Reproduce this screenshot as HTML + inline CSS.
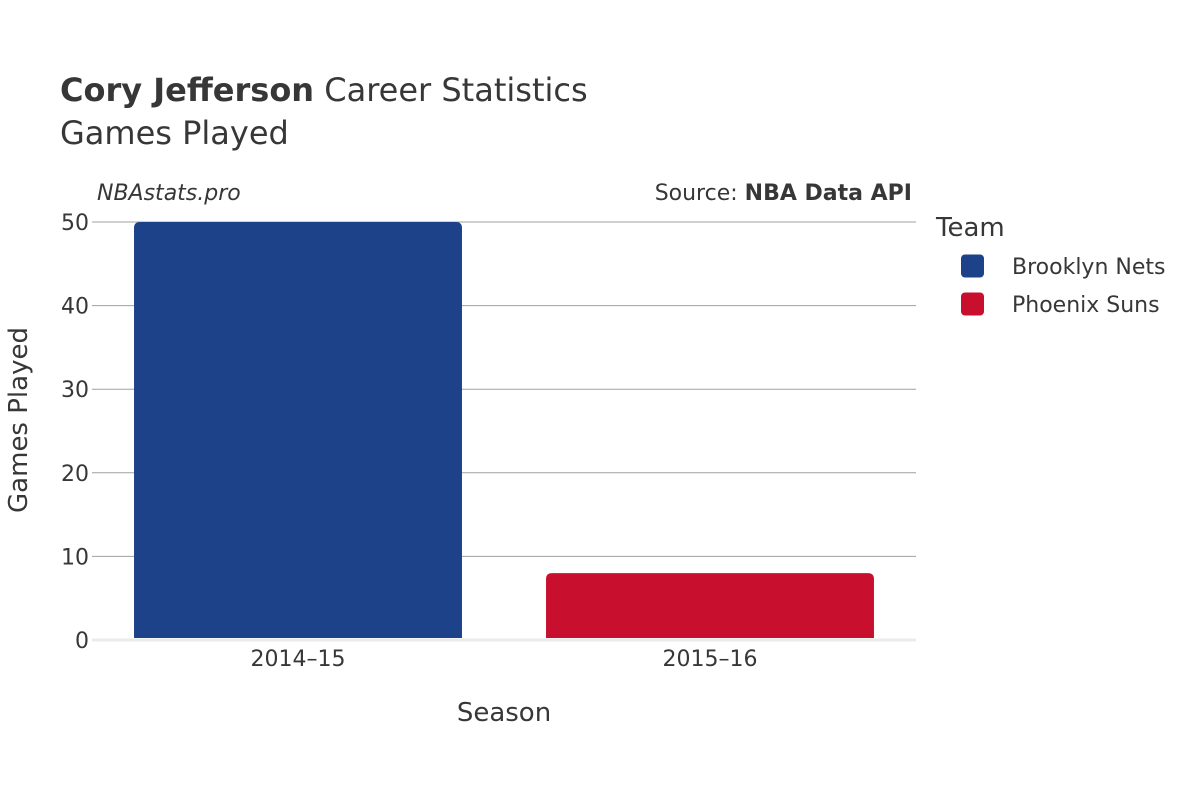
<!DOCTYPE html>
<html><head><meta charset="utf-8"><style>
body{margin:0;background:#fff;}
svg text{font-family:"DejaVu Sans","Liberation Sans",sans-serif;fill:#373737;}
</style></head><body>
<svg width="1200" height="800" xmlns="http://www.w3.org/2000/svg">
<text x="60" y="101" font-size="32"><tspan font-weight="bold">Cory Jefferson</tspan> Career Statistics</text>
<text x="60" y="144" font-size="32">Games Played</text>
<text x="97" y="200" font-size="22" font-style="italic">NBAstats.pro</text>
<text x="912" y="200" font-size="22" text-anchor="end">Source: <tspan font-weight="bold">NBA Data API</tspan></text>
<g id="grid"></g>
<g id="yticks"></g>
<g id="bars"></g>
<g id="xticks"></g>
<text x="504" y="721" font-size="26" text-anchor="middle">Season</text>
<text transform="translate(27,420) rotate(-90)" font-size="26" text-anchor="middle">Games Played</text>
<text x="936" y="236" font-size="26">Team</text>
<g id="legend"></g>
</svg>
<script>
const categories = ["2014–15", "2015–16"];
const teams = ["Brooklyn Nets", "Phoenix Suns"];
const values = [50, 8];
const colors = ["#1d428a", "#c8102e"];
const yTicks = [0, 10, 20, 30, 40, 50];
const NS = "http://www.w3.org/2000/svg";
const x0 = 92, x1 = 916, yBase = 640, yTop = 222, yMax = 50;
const y = v => yBase - (yBase - yTop) * v / yMax;
const band = (x1 - x0) / categories.length;
function mk(tag, attrs, parent, txt) {
  const e = document.createElementNS(NS, tag);
  for (const k in attrs) e.setAttribute(k, attrs[k]);
  if (txt !== undefined) e.textContent = txt;
  document.getElementById(parent).appendChild(e);
  return e;
}
yTicks.forEach(t => {
  let l;
  if (t === 0) l = mk("line", {x1: x0, x2: x1, y1: y(t), y2: y(t), stroke: "#ebebeb", "stroke-width": 3}, "grid");
  else l = mk("line", {x1: x0, x2: x1, y1: y(t), y2: y(t), stroke: "#a0a0a0", "stroke-width": 1}, "grid");
  
  
  const tx = mk("text", {x: 89, y: y(t) + 8, "font-size": 22, "text-anchor": "end"}, "yticks", String(t));
  
  
});
categories.forEach((c, i) => {
  const cx = x0 + band * (i + 0.5);
  const w = band * 0.796;
  const top = y(values[i]);
  const h = yBase - 2 - top;
  const r = Math.min(6, h / 2);
  const bx = cx - w / 2;
  const p = mk("path", {d: `M${bx},${yBase-2} V${top+r} Q${bx},${top} ${bx+r},${top} H${bx+w-r} Q${bx+w},${top} ${bx+w},${top+r} V${yBase-2} Z`, fill: colors[i]}, "bars");
  
  
  const tx = mk("text", {x: cx, y: 666, "font-size": 22, "text-anchor": "middle"}, "xticks", c);
  
  
});
teams.forEach((t, i) => {
  const ly = 266 + i * 38;
  const r = mk("rect", {x: 961, y: ly - 11.5, width: 23, height: 23, rx: 4, fill: colors[i]}, "legend");
  
  
  const tx = mk("text", {x: 1012, y: ly + 8, "font-size": 22}, "legend", t);
  
  
});
</script>
</body></html>
